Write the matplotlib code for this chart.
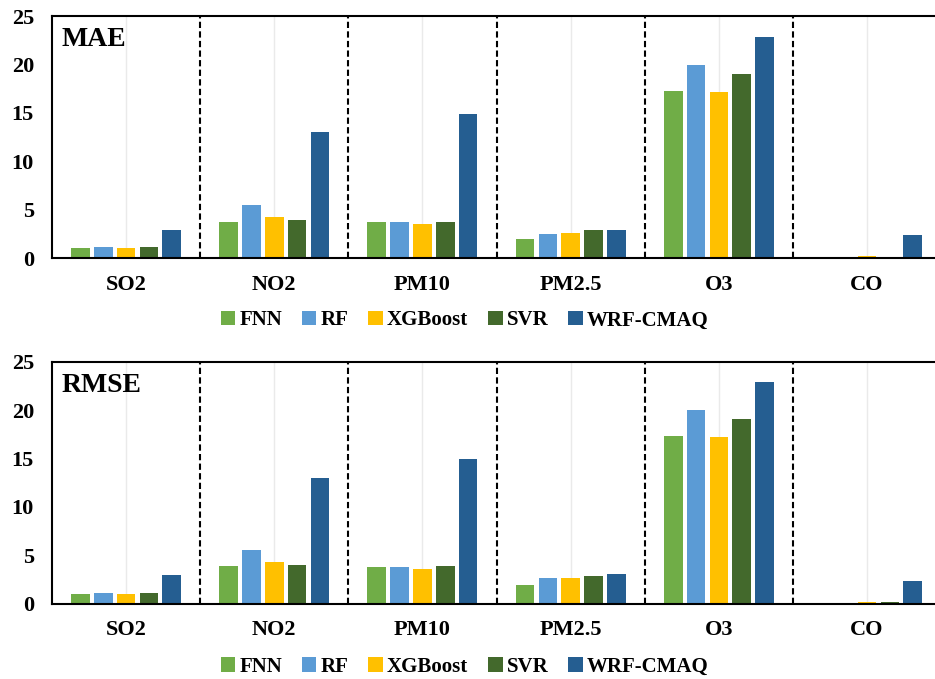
import numpy as np
import matplotlib
matplotlib.use("Agg")
import matplotlib.pyplot as plt

plt.rcParams['font.family'] = ['Liberation Serif', 'DejaVu Serif']
plt.rcParams['font.weight'] = 'bold'

pollutants = ['SO2', 'NO2', 'PM10', 'PM2.5', 'O3', 'CO']
models = ['FNN', 'RF', 'XGBoost', 'SVR', 'WRF-CMAQ']
colors = ['#70AD47', '#5B9BD5', '#FFC000', '#43692C', '#255E91']

# rows follow the models, columns the pollutants
mae = [
    [1.0, 3.75, 3.75, 1.93, 17.25, 0.0],
    [1.1, 5.47, 3.75, 2.51, 19.97, 0.0],
    [1.0, 4.24, 3.55, 2.62, 17.15, 0.22],
    [1.14, 3.93, 3.75, 2.86, 18.97, 0.0],
    [2.93, 12.98, 14.88, 2.93, 22.8, 2.34],
]
rmse = [
    [1.0, 3.86, 3.75, 1.93, 17.29, 0.0],
    [1.1, 5.58, 3.75, 2.65, 20.04, 0.0],
    [1.0, 4.27, 3.55, 2.65, 17.18, 0.2],
    [1.1, 3.96, 3.86, 2.86, 19.11, 0.2],
    [2.96, 13.02, 14.94, 3.06, 22.9, 2.34],
]

fig = plt.figure(figsize=(9.35, 6.79), dpi=100)

def panel(rect, data, name, legend_y):
    ax = fig.add_axes(rect)
    x = np.arange(len(pollutants))
    step = 0.154
    width = 0.126
    for i, (m, c) in enumerate(zip(models, colors)):
        ax.bar(x + (i - 2) * step, data[i], width, color=c, edgecolor='none',
               label=m, zorder=2)
    ax.set_xlim(-0.5, len(pollutants) - 0.5)
    ax.set_ylim(0, 25)
    ax.set_yticks([0, 5, 10, 15, 20, 25])
    ax.set_xticks(x)
    ax.set_xticklabels(pollutants)
    ax.tick_params(axis='both', length=0, labelsize=16)
    ax.tick_params(axis='y', pad=13)
    ax.tick_params(axis='x', pad=12)
    for t in ax.get_xticklabels() + ax.get_yticklabels():
        t.set_fontweight('bold')
    ax.grid(axis='x', color='#EAEAEA', linewidth=1.0, zorder=0)
    for b in x[:-1] + 0.5:
        ax.axvline(b, color='black', linewidth=1.5, linestyle=(0, (3, 1.6)), zorder=4)
    for s in ['top', 'left', 'bottom']:
        ax.spines[s].set_linewidth(1.5)
        ax.spines[s].set_zorder(5)
    ax.spines['right'].set_visible(False)
    ax.text(0.011, 0.955, name, transform=ax.transAxes, fontsize=20,
            fontweight='bold', va='top', ha='left')
    fig.legend(*ax.get_legend_handles_labels(), loc='center',
               bbox_to_anchor=(0.497, legend_y), ncol=5, frameon=False,
               handlelength=0.7, handleheight=0.7,
               handletextpad=0.2, columnspacing=0.95,
               prop={'weight': 'bold', 'size': 15})
    return ax

panel([0.0556, 0.620, 0.951, 0.3564], mae, 'MAE', 0.528)
panel([0.0556, 0.1109, 0.951, 0.3564], rmse, 'RMSE', 0.018)

fig.savefig('out.png', dpi=100)
